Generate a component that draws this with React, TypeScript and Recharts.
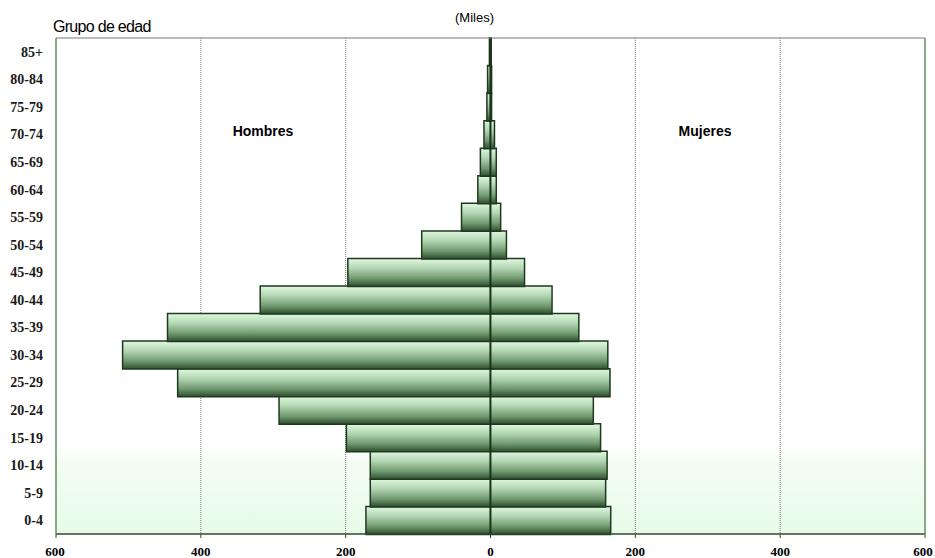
import React from 'react';
import { BarChart, Bar, XAxis, YAxis, CartesianGrid, ReferenceLine } from 'recharts';

const ageGroups = ['0-4', '5-9', '10-14', '15-19', '20-24', '25-29', '30-34', '35-39', '40-44', '45-49', '50-54', '55-59', '60-64', '65-69', '70-74', '75-79', '80-84', '85+'];
const hombres = [172, 166, 166, 199, 292, 432, 508, 446, 318, 197, 95, 40, 17.5, 14, 9, 5, 4, 1.5];
const mujeres = [166, 159, 161, 152, 142, 165, 162, 122, 85, 47, 22, 14, 8, 8, 5.5, 1.5, 1.5, 1];
const xTicks = [-600, -400, -200, 0, 200, 400, 600];

const data = ageGroups.map((age, i) => ({ age, hombres: -hombres[i], mujeres: mujeres[i] }));

const W = 935;
const H = 558;

const textBase: React.CSSProperties = { position: 'absolute', whiteSpace: 'nowrap', color: '#000' };

const XTick = (props: any) => {
  const { x, y, payload } = props;
  const v = payload.value as number;
  const shift = v === 600 ? -2 : v === -600 ? -1 : 0;
  return (
    <text
      x={x + shift}
      y={y + 16}
      textAnchor="middle"
      fill="#000"
      fontFamily='"Liberation Serif", serif'
      fontWeight={700}
      fontSize={13}
    >
      {String(Math.abs(v))}
    </text>
  );
};

export default function App() {
  return (
    <div style={{ position: 'absolute', left: 0, top: 0, width: W, height: H, overflow: 'hidden' }}>
      <BarChart
        width={W}
        height={H}
        data={data}
        layout="vertical"
        stackOffset="sign"
        barCategoryGap={0}
        margin={{ top: 37, right: 9, left: 8, bottom: 0 }}
      >
        <defs>
          <linearGradient id="barGrad" x1="0" y1="0" x2="0" y2="1">
            <stop offset="0%" stopColor="#e2f8e2" />
            <stop offset="35%" stopColor="#b2d6b2" />
            <stop offset="72%" stopColor="#6f986f" />
            <stop offset="100%" stopColor="#2c4c2c" />
          </linearGradient>
          <linearGradient id="bgGrad" x1="0" y1="0" x2="0" y2="1">
            <stop offset="0%" stopColor="#ffffff" />
            <stop offset="82%" stopColor="#ffffff" />
            <stop offset="86%" stopColor="#f3fdf3" />
            <stop offset="100%" stopColor="#e8fbe8" />
          </linearGradient>
        </defs>
        <CartesianGrid
          horizontal={false}
          vertical
          fill="url(#bgGrad)"
          stroke="#777777"
          strokeDasharray="1 1"
          verticalValues={[-400, -200, 200, 400]}
        />
        <XAxis
          type="number"
          domain={[-600, 600]}
          ticks={xTicks}
          axisLine={{ stroke: '#2e4a2e', strokeWidth: 1.5 }}
          tickLine={{ stroke: '#2e4a2e' }}
          tickSize={4}
          tickMargin={2}
          height={24}
          tick={<XTick />}
          interval={0}
        />
        <XAxis
          xAxisId="top"
          orientation="top"
          type="number"
          domain={[-600, 600]}
          height={1}
          tick={false}
          tickLine={false}
          axisLine={{ stroke: '#7a7a7a', strokeWidth: 1.2 }}
        />
        <YAxis
          type="category"
          dataKey="age"
          reversed
          width={48}
          interval={0}
          tickLine={false}
          tickSize={6}
          tickMargin={7}
          axisLine={{ stroke: '#5f8f5f', strokeWidth: 1.5 }}
          tick={{ fill: '#1a1a1a', fontFamily: '"Liberation Serif", serif', fontWeight: 700, fontSize: 14 }}
        />
        <YAxis
          yAxisId="right"
          orientation="right"
          type="category"
          dataKey="age"
          width={1}
          tick={false}
          tickLine={false}
          axisLine={{ stroke: '#5f8f5f', strokeWidth: 1.5 }}
        />
        <Bar dataKey="hombres" stackId="p" fill="url(#barGrad)" stroke="#1e3a1e" strokeWidth={1.5} isAnimationActive={false} />
        <Bar dataKey="mujeres" stackId="p" fill="url(#barGrad)" stroke="#1e3a1e" strokeWidth={1.5} isAnimationActive={false} />
        <ReferenceLine x={0} stroke="#1a331a" strokeWidth={1.5} />
      </BarChart>
      <div style={{ ...textBase, left: 53, top: 18, fontFamily: '"Liberation Sans Narrow", "Liberation Sans", Arial, sans-serif', fontSize: 16, letterSpacing: -0.7 }}>
        Grupo de edad
      </div>
      <div style={{ ...textBase, left: 455, top: 10, fontFamily: '"Liberation Sans", Arial, sans-serif', fontSize: 13 }}>
        (Miles)
      </div>
      <div style={{ ...textBase, left: 263, top: 131, transform: 'translate(-50%, -50%)', fontFamily: '"Liberation Sans", Arial, sans-serif', fontSize: 14, fontWeight: 700 }}>
        Hombres
      </div>
      <div style={{ ...textBase, left: 705, top: 131, transform: 'translate(-50%, -50%)', fontFamily: '"Liberation Sans", Arial, sans-serif', fontSize: 14, fontWeight: 700 }}>
        Mujeres
      </div>
    </div>
  );
}
